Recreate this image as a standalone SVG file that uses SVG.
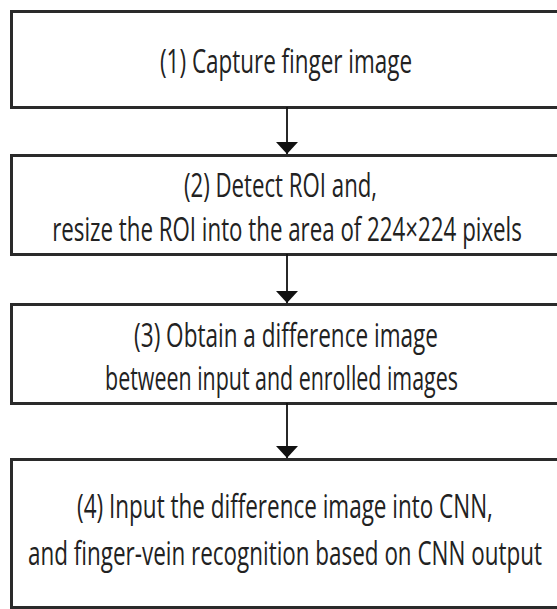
<svg xmlns="http://www.w3.org/2000/svg" width="557" height="609" viewBox="0 0 557 609">
  <defs>
    <marker id="arrow" viewBox="0 0 12 22" refX="12" refY="11" markerWidth="12" markerHeight="22" markerUnits="userSpaceOnUse" orient="auto">
      <path d="M0,0 L12,11 L0,22 Z" fill="#111"/>
    </marker>
  </defs>
  <style>
    .box { fill: #ffffff; stroke: #2a2a2a; stroke-width: 3; }
    .label { font-family: "Open Sans", "Noto Sans", sans-serif; font-size: 33px; fill: #222; text-anchor: middle; }
    .edge { stroke: #111; stroke-width: 1.8; fill: none; marker-end: url(#arrow); }
  </style>
  <rect width="557" height="609" fill="#ffffff"/>

  <!-- labels are set in a narrowed face: scaled to 70% horizontally about their centre -->
  <g id="step1">
    <rect class="box" x="11.5" y="11.5" width="547" height="96"/>
    <text class="label" transform="translate(286,0) scale(0.7,1)" x="0" y="73" textLength="360" lengthAdjust="spacingAndGlyphs">(1) Capture finger image</text>
  </g>

  <g id="step2">
    <rect class="box" x="11.5" y="155.5" width="547" height="99"/>
    <text class="label" transform="translate(280.5,0) scale(0.7,1)" x="0" y="197" textLength="276" lengthAdjust="spacingAndGlyphs">(2) Detect ROI and,</text>
    <text class="label" transform="translate(287,0) scale(0.7,1)" x="0" y="241" textLength="671" lengthAdjust="spacingAndGlyphs">resize the ROI into the area of 224×224 pixels</text>
  </g>

  <g id="step3">
    <rect class="box" x="11.5" y="304.5" width="547" height="99"/>
    <text class="label" transform="translate(286,0) scale(0.7,1)" x="0" y="347" textLength="434" lengthAdjust="spacingAndGlyphs">(3) Obtain a difference image</text>
    <text class="label" transform="translate(281.5,0) scale(0.7,1)" x="0" y="390" textLength="504" lengthAdjust="spacingAndGlyphs">between input and enrolled images</text>
  </g>

  <g id="step4">
    <rect class="box" x="11.5" y="459.5" width="547" height="148"/>
    <text class="label" transform="translate(285,0) scale(0.7,1)" x="0" y="518" textLength="594" lengthAdjust="spacingAndGlyphs">(4) Input the difference image into CNN,</text>
    <text class="label" transform="translate(285,0) scale(0.7,1)" x="0" y="565" textLength="734" lengthAdjust="spacingAndGlyphs">and finger-vein recognition based on CNN output</text>
  </g>

  <g id="connectors">
    <line class="edge" x1="287" y1="107" x2="287" y2="154"/>
    <line class="edge" x1="287" y1="254" x2="287" y2="303"/>
    <line class="edge" x1="287" y1="403" x2="287" y2="458"/>
  </g>
</svg>
